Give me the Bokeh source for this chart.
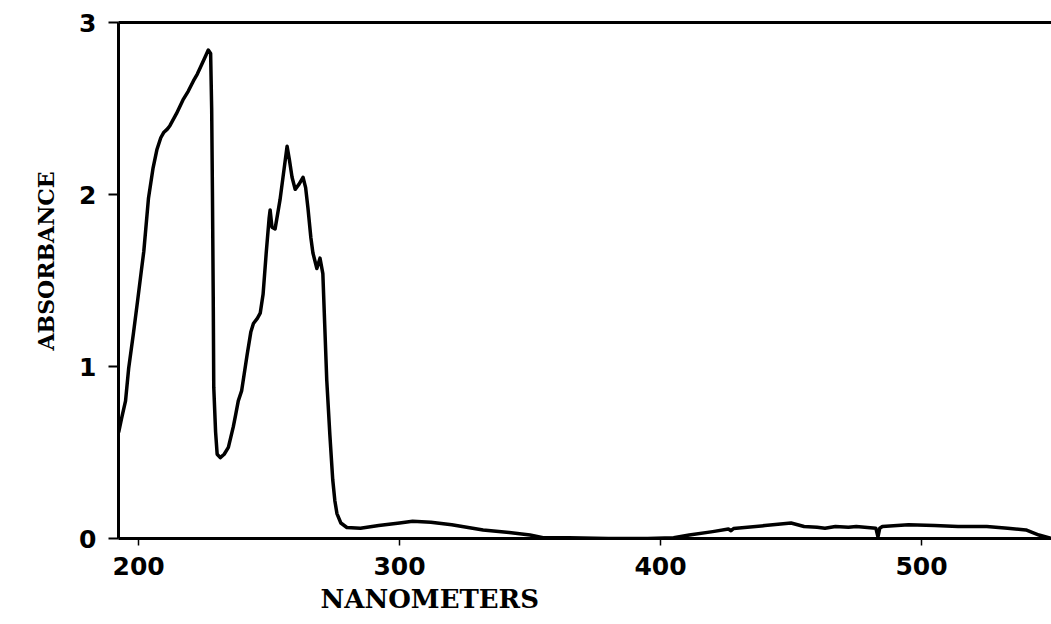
from bokeh.plotting import figure
from bokeh.models import Range1d, FixedTicker, LinearAxis, Title
from bokeh.embed import file_html
from bokeh.resources import INLINE

# Wavelength (nm) and absorbance
wavelength = [192.4, 193.5, 195.0, 196.2, 198.0, 199.6, 201.0, 202.0, 203.8, 205.5,
              207.0, 208.5, 209.6, 211.0, 212.0, 214.5, 217.0, 219.0, 221.0, 222.5,
              223.7, 225.5, 226.7, 227.6, 228.0, 228.3, 228.6, 228.8, 229.5, 230.1,
              231.3, 232.8, 234.4, 236.3, 237.2, 238.2, 239.5, 241.6, 243.0, 244.0,
              245.5, 246.6, 247.7, 248.9, 250.0, 250.4, 251.1, 252.3, 253.2, 254.2,
              255.5, 256.9, 257.8, 258.8, 260.0, 261.5, 263.0, 264.0, 264.9, 266.0,
              266.8, 268.3, 269.5, 270.6, 271.3, 272.1, 273.3, 274.4, 275.2, 276.0,
              277.5, 279.8, 285.0, 292.0, 300.0, 305.0, 312.0, 320.0, 332.0, 342.0,
              350.0, 355.0, 365.0, 380.0, 395.0, 405.0, 411.0, 420.0, 426.0, 427.0,
              428.0, 440.0, 450.0, 455.0, 460.0, 463.0, 467.0, 472.0, 475.0, 482.5,
              483.3, 484.0, 485.0, 495.0, 505.0, 514.0, 525.0, 533.0, 540.0, 545.0,
              549.8]
absorbance = [0.62, 0.70, 0.80, 0.99, 1.19, 1.38, 1.55, 1.67, 1.98, 2.15,
              2.26, 2.33, 2.36, 2.38, 2.40, 2.47, 2.55, 2.60, 2.66, 2.70,
              2.74, 2.80, 2.84, 2.82, 2.50, 2.00, 1.40, 0.88, 0.62, 0.49,
              0.47, 0.49, 0.53, 0.65, 0.72, 0.80, 0.86, 1.07, 1.20, 1.25,
              1.28, 1.31, 1.42, 1.66, 1.86, 1.91, 1.81, 1.80, 1.88, 1.97,
              2.12, 2.28, 2.20, 2.10, 2.03, 2.06, 2.10, 2.04, 1.92, 1.75,
              1.66, 1.57, 1.63, 1.54, 1.25, 0.92, 0.60, 0.34, 0.22, 0.145,
              0.09, 0.064, 0.06, 0.075, 0.09, 0.10, 0.095, 0.08, 0.05, 0.035,
              0.02, 0.005, 0.005, 0.0, 0.0, 0.005, 0.02, 0.04, 0.055, 0.045,
              0.058, 0.075, 0.09, 0.07, 0.065, 0.06, 0.07, 0.065, 0.07, 0.06,
              0.01, 0.06, 0.07, 0.08, 0.075, 0.07, 0.07, 0.06, 0.05, 0.02,
              0.0]

x_ticks = [200, 300, 400, 500]
y_ticks = [0, 1, 2, 3]
x_title = "NANOMETERS"
y_title = "ABSORBANCE"

p = figure(width=1051, height=624, output_backend="svg", toolbar_location=None,
           x_range=Range1d(192.3, 549.8), y_range=Range1d(0, 3),
           min_border_left=118, min_border_right=0, min_border_top=22,
           min_border_bottom=86, x_axis_type=None, y_axis_type=None)
p.outline_line_color = None
p.grid.visible = False
p.background_fill_color = "white"
p.border_fill_color = "white"

tick_font = "DejaVu Sans"

xa = LinearAxis(ticker=FixedTicker(ticks=x_ticks))
xa.axis_line_width = 3
xa.axis_line_color = "black"
xa.major_tick_out = 7
xa.major_tick_in = 0
xa.major_tick_line_width = 1.5
xa.minor_tick_out = 0
xa.minor_tick_in = 0
xa.major_label_text_font = tick_font
xa.major_label_text_font_style = "bold"
xa.major_label_text_font_size = "25px"
xa.major_label_text_color = "black"
xa.major_label_standoff = 11
p.add_layout(xa, "below")

ya = LinearAxis(ticker=FixedTicker(ticks=y_ticks))
ya.axis_line_width = 3
ya.axis_line_color = "black"
ya.major_tick_out = 10
ya.major_tick_in = 0
ya.major_tick_line_width = 2
ya.minor_tick_out = 0
ya.minor_tick_in = 0
ya.major_label_text_font = tick_font
ya.major_label_text_font_style = "bold"
ya.major_label_text_font_size = "25px"
ya.major_label_text_color = "black"
ya.major_label_standoff = 12
p.add_layout(ya, "left")

ta = LinearAxis(ticker=FixedTicker(ticks=[]))
ta.axis_line_width = 3
ta.axis_line_color = "black"
ta.major_tick_out = 0
ta.major_tick_in = 0
ta.minor_tick_out = 0
ta.minor_tick_in = 0
ta.major_label_text_font_size = "0px"
p.add_layout(ta, "above")

p.line(wavelength, absorbance, line_color="black", line_width=3.5,
       line_join="round", line_cap="round")

p.add_layout(Title(text=x_title, align="left", offset=202, standoff=8,
                   text_font="DejaVu Serif", text_font_style="bold",
                   text_font_size="26px", text_color="black"), "below")
p.add_layout(Title(text=y_title, align="left", offset=188, standoff=36,
                   text_font="DejaVu Serif", text_font_style="bold",
                   text_font_size="22px", text_color="black"), "left")

open("out.html", "w").write(file_html(p, INLINE))
